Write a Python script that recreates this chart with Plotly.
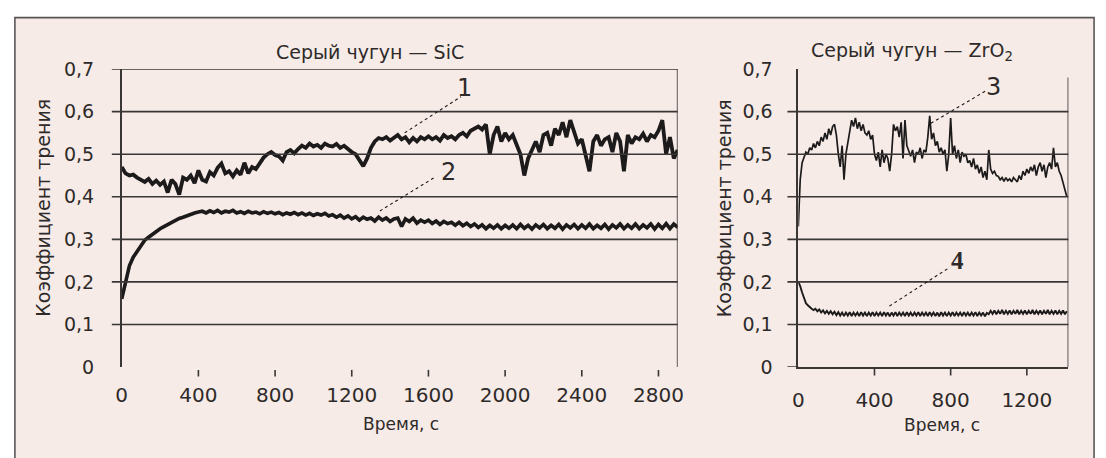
import plotly.graph_objects as go

# ---------------- data ----------------
# Grey cast iron vs SiC: friction coefficient sampled every 20 s
STEP_SIC = 20
mu_curve1 = [
    0.470, 0.455, 0.450, 0.452, 0.445, 0.440, 0.435, 0.442, 0.430, 0.438,
    0.428, 0.436, 0.410, 0.440, 0.430, 0.405, 0.445, 0.440, 0.450, 0.432,
    0.462, 0.440, 0.436, 0.458, 0.450, 0.468, 0.478, 0.455, 0.460, 0.448,
    0.462, 0.452, 0.480, 0.455, 0.470, 0.465, 0.480, 0.492, 0.500, 0.505,
    0.498, 0.495, 0.485, 0.505, 0.510, 0.502, 0.512, 0.520, 0.515, 0.525,
    0.518, 0.522, 0.515, 0.525, 0.520, 0.518, 0.524, 0.515, 0.520, 0.512,
    0.505, 0.500, 0.485, 0.472, 0.490, 0.515, 0.530, 0.538, 0.535, 0.540,
    0.532, 0.538, 0.545, 0.535, 0.540, 0.528, 0.538, 0.530, 0.540, 0.535,
    0.542, 0.535, 0.540, 0.532, 0.545, 0.538, 0.542, 0.535, 0.545, 0.550,
    0.542, 0.555, 0.560, 0.565, 0.558, 0.570, 0.500, 0.545, 0.565, 0.530,
    0.550, 0.535, 0.545, 0.525, 0.500, 0.450, 0.490, 0.510, 0.530, 0.505,
    0.545, 0.550, 0.520, 0.560, 0.545, 0.575, 0.540, 0.580, 0.550, 0.525,
    0.535, 0.500, 0.460, 0.530, 0.545, 0.520, 0.535, 0.540, 0.505, 0.550,
    0.530, 0.460, 0.545, 0.525, 0.540, 0.535, 0.548, 0.530, 0.545, 0.540,
    0.555, 0.580, 0.500, 0.540, 0.490, 0.510,
]
mu_curve2 = [
    0.160, 0.200, 0.238, 0.258, 0.272, 0.287, 0.298, 0.305, 0.312, 0.318,
    0.325, 0.330, 0.335, 0.340, 0.345, 0.349, 0.352, 0.356, 0.360, 0.362,
    0.364, 0.366, 0.362, 0.367, 0.363, 0.368, 0.362, 0.366, 0.364, 0.368,
    0.362, 0.365, 0.361, 0.366, 0.362, 0.364, 0.360, 0.365, 0.361, 0.364,
    0.360, 0.363, 0.358, 0.362, 0.359, 0.363, 0.358, 0.362, 0.357, 0.361,
    0.356, 0.360, 0.357, 0.361, 0.355, 0.358, 0.352, 0.357, 0.350, 0.355,
    0.348, 0.353, 0.345, 0.352, 0.347, 0.350, 0.343, 0.352, 0.345, 0.350,
    0.342, 0.348, 0.350, 0.330, 0.348, 0.342, 0.350, 0.338, 0.345, 0.340,
    0.345, 0.337, 0.343, 0.335, 0.342, 0.337, 0.340, 0.333, 0.340, 0.332,
    0.338, 0.330, 0.336, 0.328, 0.334, 0.325, 0.333, 0.326, 0.334, 0.325,
    0.333, 0.326, 0.334, 0.325, 0.335, 0.326, 0.333, 0.324, 0.334, 0.327,
    0.335, 0.325, 0.333, 0.326, 0.335, 0.324, 0.334, 0.327, 0.335, 0.325,
    0.334, 0.326, 0.336, 0.325, 0.333, 0.326, 0.335, 0.324, 0.334, 0.327,
    0.336, 0.325, 0.334, 0.326, 0.336, 0.325, 0.334, 0.327, 0.336, 0.324,
    0.335, 0.326, 0.337, 0.325, 0.336, 0.328,
]

# Grey cast iron vs ZrO2: friction coefficient sampled every 10 s
STEP_ZRO2 = 10
mu_curve3 = [
    0.330, 0.440, 0.480, 0.495, 0.505, 0.500, 0.515, 0.510, 0.525, 0.515,
    0.530, 0.520, 0.540, 0.530, 0.550, 0.535, 0.560, 0.545, 0.565, 0.570,
    0.545, 0.500, 0.470, 0.520, 0.440, 0.500, 0.530, 0.555, 0.580, 0.565,
    0.585, 0.560, 0.575, 0.555, 0.570, 0.550, 0.545, 0.555, 0.535, 0.545,
    0.500, 0.485, 0.505, 0.470, 0.510, 0.480, 0.500, 0.490, 0.460, 0.500,
    0.570, 0.555, 0.565, 0.540, 0.575, 0.490, 0.580, 0.520, 0.505, 0.495,
    0.510, 0.480, 0.505, 0.500, 0.515, 0.490, 0.510, 0.505, 0.540, 0.590,
    0.535, 0.550, 0.520, 0.530, 0.505, 0.515, 0.500, 0.510, 0.460, 0.500,
    0.585, 0.500, 0.520, 0.490, 0.510, 0.480, 0.505, 0.495, 0.500, 0.480,
    0.485, 0.470, 0.490, 0.465, 0.475, 0.455, 0.470, 0.445, 0.460, 0.440,
    0.510, 0.465, 0.455, 0.460, 0.450, 0.448, 0.440, 0.445, 0.436, 0.445,
    0.438, 0.442, 0.435, 0.445, 0.440, 0.435, 0.450, 0.440, 0.460, 0.450,
    0.465, 0.455, 0.470, 0.460, 0.475, 0.450, 0.470, 0.480, 0.460, 0.475,
    0.445, 0.470, 0.480, 0.465, 0.515, 0.470, 0.480, 0.460, 0.450, 0.435,
    0.420, 0.400,
]
mu_curve4 = [
    0.200, 0.190, 0.175, 0.160, 0.150, 0.145, 0.140, 0.137, 0.134, 0.137,
    0.131, 0.135, 0.128, 0.133, 0.126, 0.132, 0.125, 0.131, 0.124, 0.130,
    0.122, 0.129, 0.121, 0.128, 0.120, 0.128, 0.121, 0.129, 0.120, 0.128,
    0.121, 0.128, 0.120, 0.129, 0.121, 0.128, 0.120, 0.128, 0.121, 0.129,
    0.120, 0.128, 0.121, 0.128, 0.120, 0.129, 0.121, 0.128, 0.119, 0.128,
    0.121, 0.129, 0.120, 0.128, 0.121, 0.128, 0.120, 0.129, 0.121, 0.128,
    0.120, 0.128, 0.121, 0.129, 0.120, 0.128, 0.121, 0.128, 0.120, 0.129,
    0.121, 0.128, 0.120, 0.128, 0.119, 0.129, 0.121, 0.128, 0.120, 0.128,
    0.121, 0.129, 0.120, 0.128, 0.121, 0.128, 0.120, 0.129, 0.121, 0.128,
    0.120, 0.128, 0.121, 0.129, 0.120, 0.128, 0.121, 0.128, 0.119, 0.127,
    0.124, 0.132, 0.125, 0.133, 0.124, 0.132, 0.125, 0.134, 0.124, 0.132,
    0.125, 0.133, 0.124, 0.132, 0.125, 0.134, 0.124, 0.132, 0.125, 0.133,
    0.124, 0.132, 0.125, 0.134, 0.124, 0.132, 0.125, 0.133, 0.124, 0.132,
    0.125, 0.134, 0.124, 0.132, 0.125, 0.133, 0.124, 0.132, 0.125, 0.133,
    0.124, 0.131,
]

time_sic = [STEP_SIC * i for i in range(len(mu_curve1))]
time_sic2 = [STEP_SIC * i for i in range(len(mu_curve2))]
time_zro2 = [STEP_ZRO2 * i for i in range(len(mu_curve3))]
time_zro2b = [STEP_ZRO2 * i for i in range(len(mu_curve4))]

y_ticks = [0, 0.1, 0.2, 0.3, 0.4, 0.5, 0.6, 0.7]
y_ticktext = ["0", "0,1", "0,2", "0,3", "0,4", "0,5", "0,6", "0,7"]
x_ticks_sic = [0, 400, 800, 1200, 1600, 2000, 2400, 2800]
x_ticks_zro2 = [0, 400, 800, 1200]

title_sic = "Серый чугун — SiC"
title_zro2 = "Серый чугун — ZrO<sub>2</sub>"
y_title = "Коэффициент трения"
x_title = "Время, с"

# ---------------- layout helpers ----------------
W, H = 1106, 458
FONT = "DejaVu Sans"
INK = "#1c1a1a"
GRID = "#3a3636"
TXT = "#2e2a2a"
BG = "#f6ebe7"


def fx(p):
    return p / W


def fy(p):
    return 1 - p / H


fig = go.Figure()

fig.add_trace(go.Scatter(x=time_sic, y=mu_curve1, mode="lines",
                         line=dict(color=INK, width=3.8),
                         xaxis="x", yaxis="y", showlegend=False))
fig.add_trace(go.Scatter(x=time_sic2, y=mu_curve2, mode="lines",
                         line=dict(color=INK, width=3.6),
                         xaxis="x", yaxis="y", showlegend=False))
fig.add_trace(go.Scatter(x=time_zro2, y=mu_curve3, mode="lines",
                         line=dict(color=INK, width=1.7),
                         xaxis="x2", yaxis="y2", showlegend=False))
fig.add_trace(go.Scatter(x=time_zro2b, y=mu_curve4, mode="lines",
                         line=dict(color=INK, width=1.9),
                         xaxis="x2", yaxis="y2", showlegend=False))

shapes = []
# panel background with frame
shapes.append(dict(type="rect", xref="paper", yref="paper",
                   x0=fx(9), x1=fx(1100), y0=-0.05, y1=fy(7),
                   fillcolor=BG, line=dict(color="#5a5656", width=1.6),
                   layer="below"))

# left panel: grid lines (with outward tick stubs) and right frame edge
for v in y_ticks[1:]:
    shapes.append(dict(type="line", xref="paper", yref="y",
                       x0=fx(107), x1=fx(679), y0=v, y1=v,
                       line=dict(color=GRID, width=1.6)))
shapes.append(dict(type="line", xref="x", yref="y", x0=2900, x1=2900,
                   y0=0, y1=0.7, line=dict(color=GRID, width=1.6)))
for t in x_ticks_sic[1:]:
    shapes.append(dict(type="line", xref="x", yref="paper", x0=t, x1=t,
                       y0=fy(377), y1=fy(384), line=dict(color=GRID, width=1.6)))

# right panel: grid lines, base line stub, right frame edge
for v in y_ticks[1:7]:
    shapes.append(dict(type="line", xref="paper", yref="y2",
                       x0=fx(790), x1=fx(1074), y0=v, y1=v,
                       line=dict(color=GRID, width=1.6)))
shapes.append(dict(type="line", xref="paper", yref="y2",
                   x0=fx(790), x1=fx(801), y0=0, y1=0,
                   line=dict(color=GRID, width=1.6)))
shapes.append(dict(type="line", xref="x2", yref="y2", x0=1418, x1=1418,
                   y0=0, y1=0.68, line=dict(color=GRID, width=1.6)))
for t in x_ticks_zro2[1:]:
    shapes.append(dict(type="line", xref="x2", yref="paper", x0=t, x1=t,
                       y0=fy(374), y1=fy(383), line=dict(color=GRID, width=1.6)))

# leader lines to the curve numbers
leaders = [((403, 128), (460, 90)), ((378, 210), (433, 175)),
           ((935, 118), (992, 83)), ((893, 310), (953, 270))]
for (a, b) in leaders:
    shapes.append(dict(type="line", xref="paper", yref="paper",
                       x0=fx(a[0]), y0=fy(a[1]), x1=fx(b[0]), y1=fy(b[1]),
                       line=dict(color=INK, width=1.1, dash="dot")))

annotations = []


def text(x, y, s, size, angle=0, family=FONT, bold=False):
    if bold:
        s = "<b>" + s + "</b>"
    annotations.append(dict(xref="paper", yref="paper", x=fx(x), y=fy(y),
                            text=s, showarrow=False, textangle=angle,
                            xanchor="center", yanchor="middle",
                            font=dict(family=family, size=size, color=TXT)))


text(368, 43, title_sic, 19)
text(916, 43, title_zro2, 19)
text(399, 434, x_title, 17)
text(946, 435, x_title, 17)
text(37, 207, y_title, 19, angle=-90)
text(726, 207, y_title, 19, angle=-90)
text(464, 81, "1", 24)
text(447, 169, "2", 24)
text(998, 80, "3", 24)
text(962, 262, "4", 25, family="Liberation Serif", bold=True)

axis_common = dict(showgrid=False, zeroline=False, ticks="", fixedrange=True)
xfont = dict(family=FONT, size=20, color=TXT)
yfont = dict(family=FONT, size=19, color=TXT)

fig.update_layout(
    width=W, height=H, autosize=False,
    margin=dict(l=0, r=0, t=0, b=0),
    paper_bgcolor="white", plot_bgcolor="rgba(0,0,0,0)",
    xaxis=dict(domain=[fx(117), fx(679)], range=[0, 2900], anchor="y",
               tickvals=x_ticks_sic, showline=False, tickfont=xfont,
               ticklabelstandoff=14, **axis_common),
    yaxis=dict(domain=[fy(374), fy(61)], range=[0, 0.7], anchor="x",
               tickvals=y_ticks, ticktext=y_ticktext, tickfont=yfont,
               showline=True, linecolor=GRID, linewidth=1.6,
               ticklabelstandoff=22, **axis_common),
    xaxis2=dict(domain=[fx(801), fx(1074)], range=[0, 1418], anchor="y2",
                tickvals=x_ticks_zro2, showline=True, linecolor=GRID,
                linewidth=1.6, tickfont=xfont, ticklabelstandoff=14,
                **axis_common),
    yaxis2=dict(domain=[fy(374), fy(61)], range=[0, 0.7], anchor="x2",
                tickvals=y_ticks, ticktext=y_ticktext, tickfont=yfont,
                showline=True, linecolor=GRID, linewidth=1.6,
                ticklabelstandoff=20, **axis_common),
    shapes=shapes,
    annotations=annotations,
)

fig.write_html("out.html")
